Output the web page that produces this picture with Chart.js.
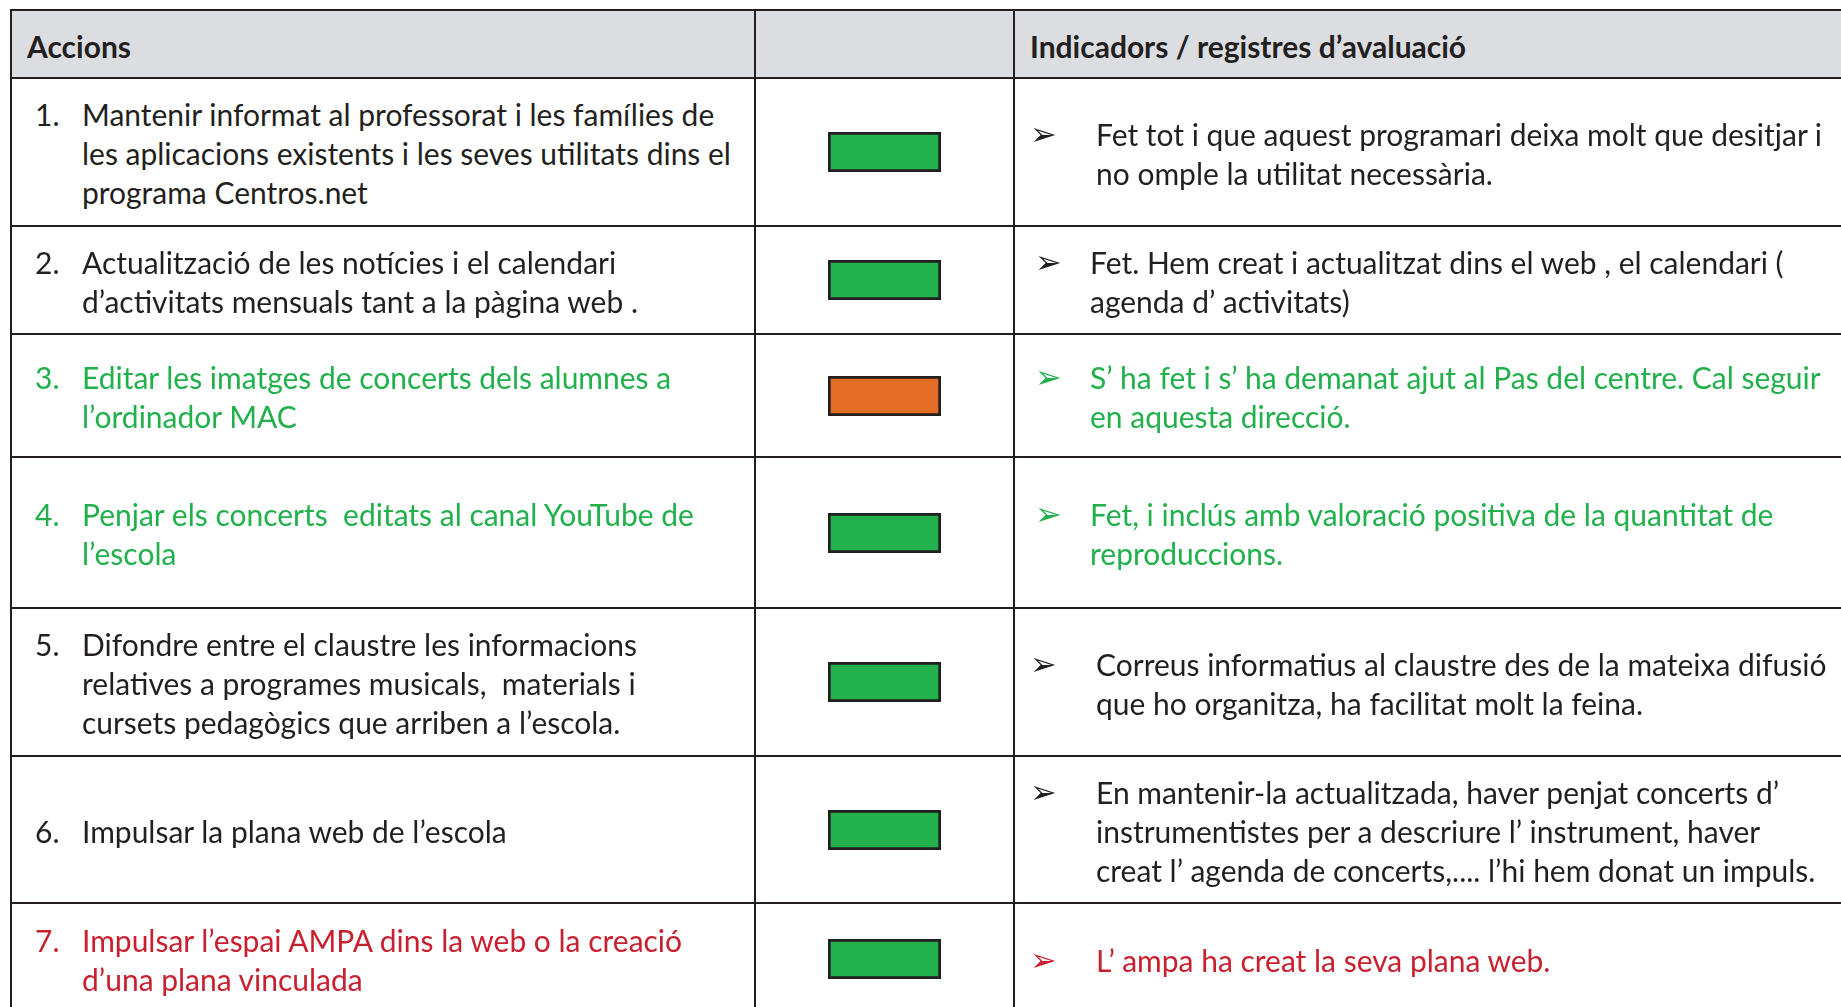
<!DOCTYPE html>
<html lang="ca">
<head>
<meta charset="utf-8">
<title>Accions i indicadors d'avaluació</title>
<script src="https://cdn.jsdelivr.net/npm/chart.js"></script>
<style>
html, body { margin: 0; padding: 0; background: #fff; width: 1841px; height: 1007px; overflow: hidden; }
#taula {
    position: absolute; left: 10px; top: 9px;
    display: grid;
    grid-template-columns: 744px 259px 845px;
    grid-template-rows: 68px 148px 108px 123px 151px 148px 147px 111px;
    border-top: 2px solid #231f20; border-left: 2px solid #231f20;
    font-family: Lato, "Open Sans", sans-serif; color: #231f20;
    font-size: var(--mida, 28px); line-height: 39px;
}
.cel { box-sizing: border-box; border-right: 2px solid #231f20; border-bottom: 2px solid #231f20;
       display: flex; align-items: center; white-space: pre; padding-top: 3px; }
.cap { background: #dcdde0; font-weight: bold; padding-left: 15px; padding-top: 5px; }
.accio { padding-left: 23px; }
.num { width: 47px; flex: none; }
.estat { justify-content: center; padding-top: 0; }
.indic { padding-left: 15px; }
.indic.b { padding-left: 20px; }
.fletxa { font-family: "DejaVu Sans", sans-serif; font-size: 32px; width: 66px; flex: none; line-height: 39px; }
.indic.b .fletxa { width: 55px; }
.fila { display: flex; align-items: flex-start; }
</style>
</head>
<body>
<div id="taula"></div>
<script>
// columnes de la taula
const capcaleres = ['Accions', '', 'Indicadors / registres d’avaluació'];

const accions = [
    ['Mantenir informat al professorat i les famílies de', 'les aplicacions existents i les seves utilitats dins el', 'programa Centros.net'],
    ['Actualització de les notícies i el calendari', 'd’activitats mensuals tant a la pàgina web .'],
    ['Editar les imatges de concerts dels alumnes a', 'l’ordinador MAC'],
    ['Penjar els concerts  editats al canal YouTube de', 'l’escola'],
    ['Difondre entre el claustre les informacions', 'relatives a programes musicals,  materials i', 'cursets pedagògics que arriben a l’escola.'],
    ['Impulsar la plana web de l’escola'],
    ['Impulsar l’espai AMPA dins la web o la creació', 'd’una plana vinculada']
];

// estat de cada acció (semàfor)
const estats = ['fet', 'fet', 'en curs', 'fet', 'fet', 'fet', 'fet'];
const valors = [1, 1, 1, 1, 1, 1, 1];

const indicadors = [
    ['Fet tot i que aquest programari deixa molt que desitjar i', 'no omple la utilitat necessària.'],
    ['Fet. Hem creat i actualitzat dins el web , el calendari (', 'agenda d’ activitats)'],
    ['S’ ha fet i s’ ha demanat ajut al Pas del centre. Cal seguir', 'en aquesta direcció.'],
    ['Fet, i inclús amb valoració positiva de la quantitat de', 'reproduccions.'],
    ['Correus informatius al claustre des de la mateixa difusió', 'que ho organitza, ha facilitat molt la feina.'],
    ['En mantenir-la actualitzada, haver penjat concerts d’', 'instrumentistes per a descriure l’ instrument, haver', 'creat l’ agenda de concerts,.... l’hi hem donat un impuls.'],
    ['L’ ampa ha creat la seva plana web.']
];

// estil
const colorEstat = { 'fet': '#22b14c', 'en curs': '#e46c24' };
const colorFila = ['#231f20', '#231f20', '#21b04b', '#21b04b', '#231f20', '#231f20', '#c8202f'];
const sagnatB = [false, true, true, true, false, false, false];

// ajusta la mida de lletra a l'amplada de la primera línia
(function () {
    const c = document.createElement('canvas').getContext('2d');
    c.font = '100px Lato';
    const w = c.measureText(accions[0][0]).width;
    document.getElementById('taula').style.setProperty('--mida', (100 * 633 / w).toFixed(2) + 'px');
})();

const taula = document.getElementById('taula');

function cel(classe, html) {
    const d = document.createElement('div');
    d.className = 'cel ' + classe;
    d.innerHTML = html;
    taula.appendChild(d);
    return d;
}

capcaleres.forEach(t => cel('cap', t));

accions.forEach((linies, i) => {
    const a = cel('accio', '<div class="fila"><span class="num">' + (i + 1) + '.</span><span>' + linies.join('\n') + '</span></div>');
    a.style.color = colorFila[i];

    const e = cel('estat', '');
    const canvas = document.createElement('canvas');
    canvas.width = 113;
    canvas.height = 40;
    e.appendChild(canvas);
    new Chart(canvas, {
        type: 'bar',
        data: {
            labels: [estats[i]],
            datasets: [{
                data: [valors[i]],
                backgroundColor: colorEstat[estats[i]],
                borderColor: '#231f20',
                borderWidth: 3,
                borderSkipped: false,
                categoryPercentage: 1,
                barPercentage: 1
            }]
        },
        options: {
            indexAxis: 'y',
            responsive: false,
            animation: false,
            events: [],
            plugins: { legend: { display: false }, tooltip: { enabled: false } },
            scales: {
                x: { display: false, min: 0, max: 1 },
                y: { display: false }
            }
        }
    });

    const ind = cel('indic' + (sagnatB[i] ? ' b' : ''),
        '<div class="fila"><span class="fletxa">➢</span><span>' + indicadors[i].join('\n') + '</span></div>');
    ind.style.color = colorFila[i];
});
</script>
</body>
</html>
